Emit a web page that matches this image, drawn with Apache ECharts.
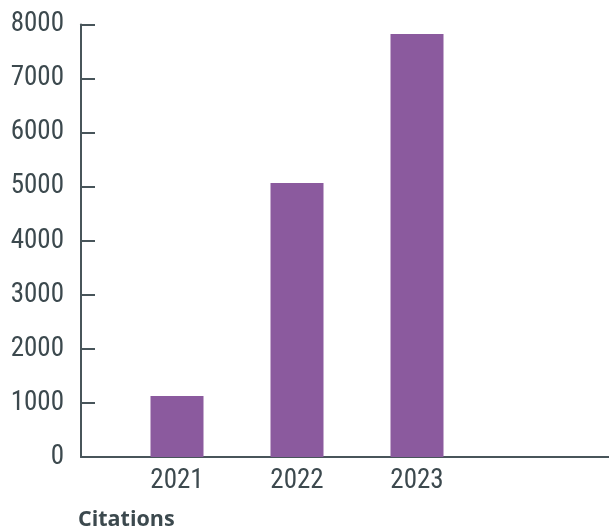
<!DOCTYPE html>
<html>
<head>
<meta charset="utf-8">
<script src="https://cdn.jsdelivr.net/npm/echarts@6/dist/echarts.min.js"></script>
<style>
html,body{margin:0;padding:0;background:#fff;}
#c{width:609px;height:531px;}
</style>
</head>
<body>
<div id="c"></div>
<script>
const categories = ['2021', '2022', '2023'];
const citations = [1130, 5070, 7825];
const yMin = 0, yMax = 8000, yStep = 1000;
const titleText = 'Citations';

const axisColor = '#48555a';
const textColor = '#3c494e';
const barColor = '#8b5a9e';
const numFont = "'Roboto Condensed','Liberation Sans Narrow','Arial Narrow','DejaVu Sans Condensed',Roboto,sans-serif";

const chart = echarts.init(document.getElementById('c'), null, {renderer: 'canvas'});
chart.setOption({
  animation: false,
  title: {
    text: titleText,
    left: 78, top: 509, padding: 0,
    textStyle: {fontFamily: "'Open Sans',sans-serif", fontWeight: 'bold', fontSize: 21.5, color: textColor}
  },
  grid: {left: 81, right: 0, top: 24.5, bottom: 74},
  xAxis: {
    type: 'value',
    min: -0.8, max: 3.6,
    splitLine: {show: false},
    axisLine: {show: true, onZero: false, lineStyle: {color: axisColor, width: 2}},
    axisTick: {show: false},
    axisLabel: {
      customValues: categories.map((c, i) => i),
      formatter: v => categories[Math.round(v)] || '',
      fontFamily: numFont, fontSize: 27, color: textColor, margin: 11
    }
  },
  yAxis: {
    type: 'value',
    min: yMin, max: yMax, interval: yStep,
    splitLine: {show: false},
    axisLine: {show: true, onZero: false, lineStyle: {color: axisColor, width: 2}},
    axisTick: {show: true, inside: true, length: 14, lineStyle: {color: axisColor, width: 2}},
    axisLabel: {formatter: v => String(v), fontFamily: numFont, fontSize: 27, color: textColor, margin: 17}
  },
  series: [{
    type: 'bar',
    data: categories.map((c, i) => [i, citations[i]]),
    barWidth: 53,
    itemStyle: {color: barColor}
  }]
});
</script>
</body>
</html>
